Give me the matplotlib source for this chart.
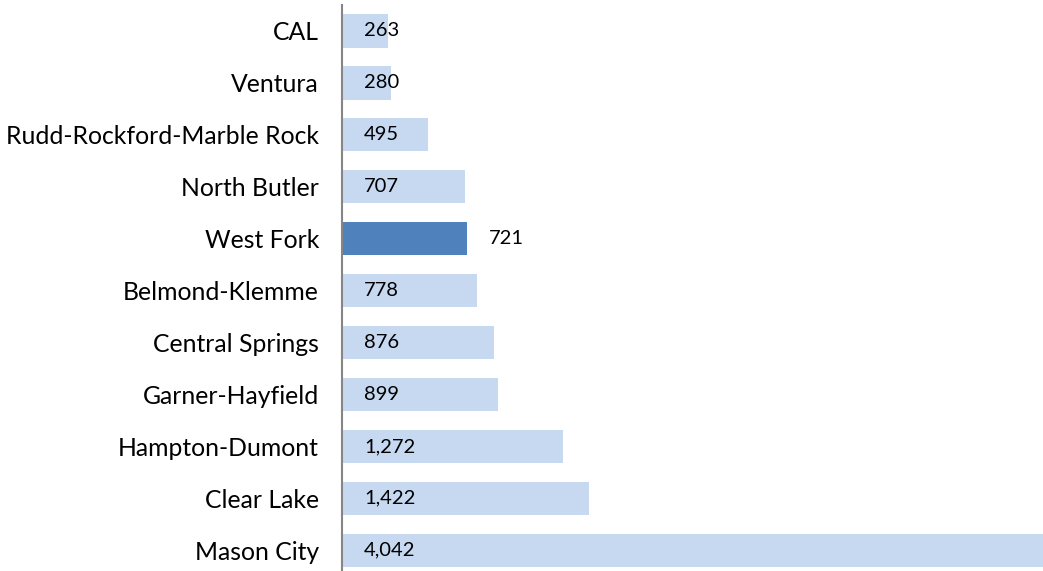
import matplotlib
matplotlib.use('Agg')
import matplotlib.pyplot as plt

# Enrollment by district
districts = ['CAL', 'Ventura', 'Rudd-Rockford-Marble Rock', 'North Butler',
             'West Fork', 'Belmond-Klemme', 'Central Springs', 'Garner-Hayfield',
             'Hampton-Dumont', 'Clear Lake', 'Mason City']
enrollment = [263, 280, 495, 707, 721, 778, 876, 899, 1272, 1422, 4042]
highlight = 'West Fork'

plt.rcParams['font.family'] = ['Lato', 'DejaVu Sans']

fig = plt.figure(figsize=(10.43, 5.71), dpi=100)
ax = fig.add_axes([342 / 1043, 0, 1 - 342 / 1043, 1 - 5 / 571])

colors = ['#4F81BD' if d == highlight else '#C6D9F1' for d in districts]
pos = list(range(len(districts)))
ax.barh(pos, enrollment, height=0.64, color=colors)

for i, (d, v) in enumerate(zip(districts, enrollment)):
    x0 = v if d == highlight else 0
    ax.annotate(f'{v:,}', xy=(x0, i), xytext=(22, 0), textcoords='offset pixels',
                ha='left', va='center', fontsize=14.5, color='black')

ax.set_yticks(pos)
ax.set_yticklabels(districts, fontsize=17.8)
ax.tick_params(axis='y', length=0, pad=16.5)
ax.set_xticks([])
ax.set_xlim(0, 4042)
ax.set_ylim(10.4, -0.5)

for s in ['top', 'right', 'bottom']:
    ax.spines[s].set_visible(False)
ax.spines['left'].set_color('#868686')
ax.spines['left'].set_linewidth(1.5)

fig.savefig('out.png', dpi=100)
